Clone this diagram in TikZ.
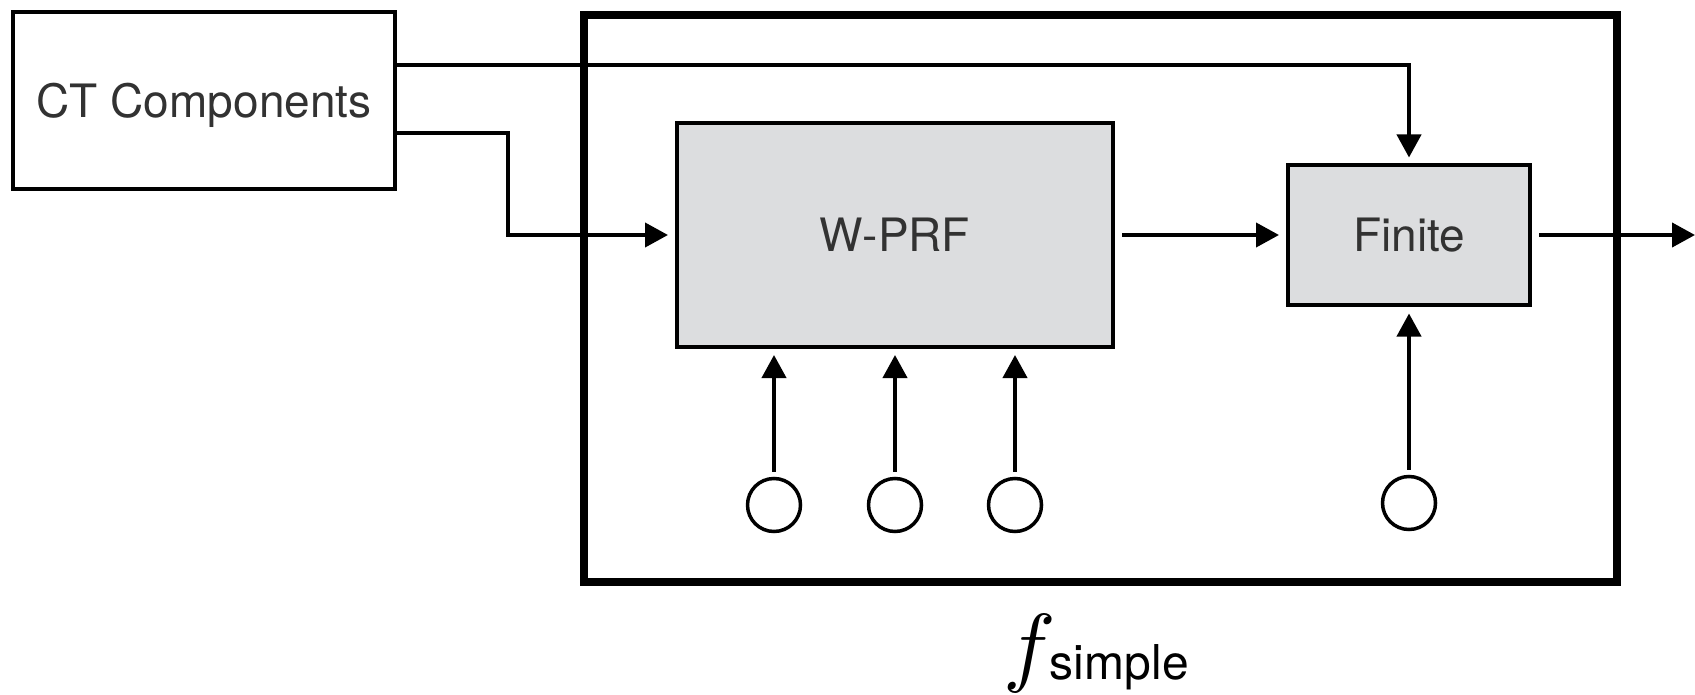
\documentclass[tikz,border=0pt]{standalone}
\usepackage{graphicx}
\usepackage{fontspec}
\newfontfamily\heros{TeX Gyre Heros}
\usetikzlibrary{arrows.meta}
\definecolor{boxgray}{RGB}{220,221,223}
\definecolor{txtgray}{RGB}{50,50,50}
\begin{document}
\begin{tikzpicture}[x=0.5pt,y=-0.5pt,
  box/.style={draw,line width=2pt,inner sep=0pt,font=\heros\fontsize{23}{27}\selectfont,text=txtgray},
  framebox/.style={draw,line width=4pt,inner sep=0pt},
  conn/.style={line width=2pt,-{Triangle[length=11.5pt,width=12pt]}},
  src/.style={draw,circle,line width=1.75pt,minimum size=26.5pt,inner sep=0pt}]
\useasboundingbox (0,0) rectangle (1695,695);
% outer frame
\node[framebox,minimum width=516.5pt,minimum height=283.5pt] (frame) at (1100.5,298.5) {};
% boxes
\node[box,minimum width=191pt,minimum height=88.25pt,text height=20pt,text depth=3pt] (CT) at (204,100.75) {CT Components};
\node[box,fill=boxgray,minimum width=218pt,minimum height=112pt] (W) at (895,235) {W-PRF};
\node[box,fill=boxgray,minimum width=121pt,minimum height=69.5pt] (F) at (1409,235) {Finite};
% sources
\node[src] (c1) at (774,505) {};
\node[src] (c2) at (895,505) {};
\node[src] (c3) at (1015,505) {};
\node[src] (c4) at (1409,503) {};
% helper coordinates
\coordinate (t1) at (0,65);
\coordinate (k) at (508,133);
\coordinate (out) at (1695,235);
% connectors
\draw[conn,shorten >=3pt] (CT.east |- t1) -| (F.north);
\draw[conn,shorten >=3.5pt] (CT.east |- k) -- (k) |- (W.west);
\draw[conn,shorten <=3.5pt,shorten >=3.5pt] (W.east) -- (F.west);
\draw[conn,shorten <=3.5pt] (F.east) -- (out);
\foreach \c in {c1,c2,c3}
  \draw[conn,shorten <=2.5pt,shorten >=3pt] (\c.north) -- (\c.north |- W.south);
\draw[conn,shorten <=2.5pt,shorten >=3.5pt] (c4.north) -- (c4.north |- F.south);
% label
\node[anchor=base west,inner sep=0pt] (lbl) at (1003,675)
  {\scalebox{4.4}{$f$}\kern-3pt\raisebox{-2pt}{\heros\fontsize{24}{29}\selectfont simple}};
\end{tikzpicture}
\end{document}
